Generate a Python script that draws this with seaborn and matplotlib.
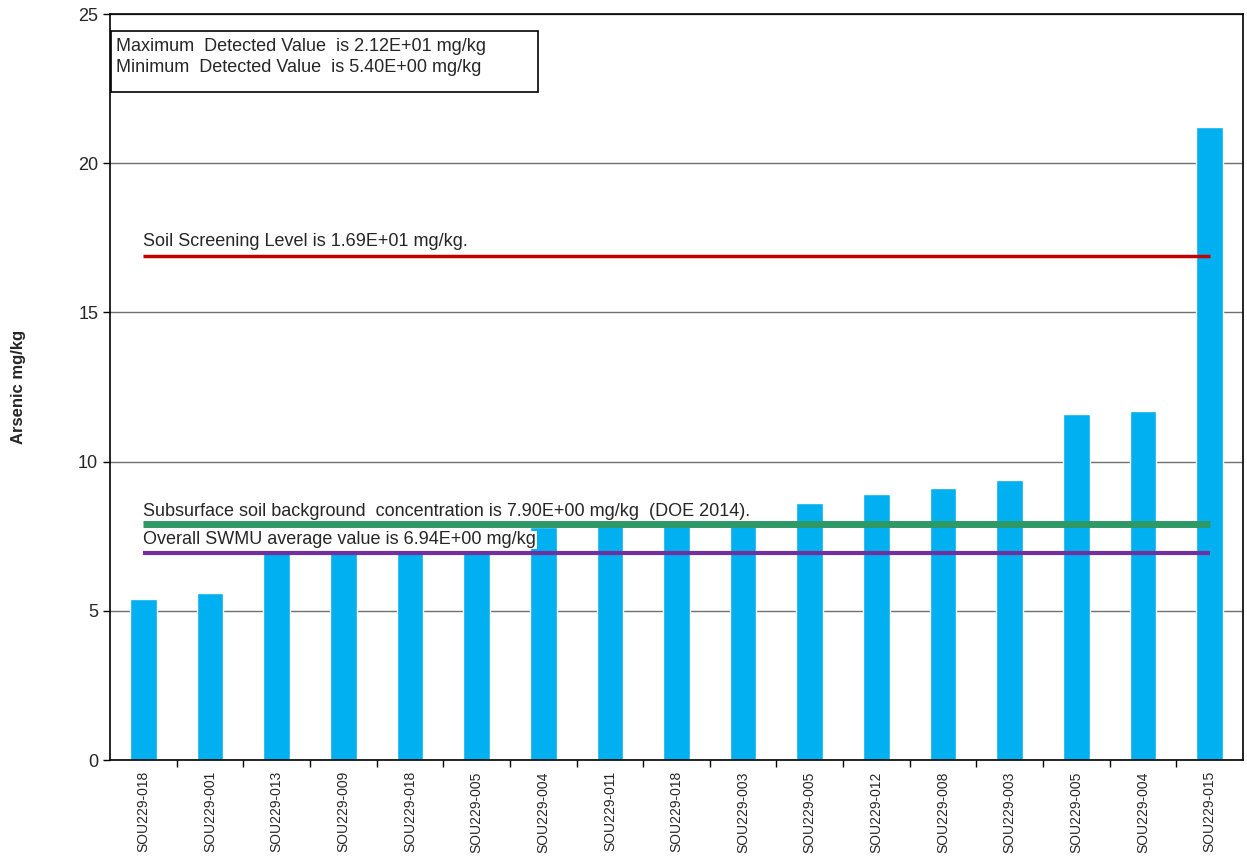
import matplotlib
matplotlib.use("Agg")
import matplotlib.pyplot as plt
import matplotlib.patches as mpatches
import numpy as np
import pandas as pd
import seaborn as sns

# sample ids (in plotted order) and arsenic results
samples = ["SOU229-018", "SOU229-001", "SOU229-013", "SOU229-009", "SOU229-018",
           "SOU229-005", "SOU229-004", "SOU229-011", "SOU229-018", "SOU229-003",
           "SOU229-005", "SOU229-012", "SOU229-008", "SOU229-003", "SOU229-005",
           "SOU229-004", "SOU229-015"]
arsenic = [5.4, 5.6, 7.0, 7.0, 7.0, 7.0, 7.8, 8.0, 8.0, 8.0,
           8.6, 8.9, 9.1, 9.4, 11.6, 11.7, 21.2]

ssl = 16.9
background = 7.9
swmu_avg = 6.94

ssl_label = "Soil Screening Level is 1.69E+01 mg/kg."
bg_label = "Subsurface soil background  concentration is 7.90E+00 mg/kg  (DOE 2014)."
avg_label = "Overall SWMU average value is 6.94E+00 mg/kg"
box_lines = ["Maximum  Detected Value  is 2.12E+01 mg/kg",
             "Minimum  Detected Value  is 5.40E+00 mg/kg"]

sns.set_theme(style="white")
plt.rcParams["font.family"] = ["Liberation Sans", "DejaVu Sans"]

df = pd.DataFrame({"pos": range(len(samples)), "value": arsenic})

fig, ax = plt.subplots(figsize=(12.47, 8.59), dpi=100)
fig.subplots_adjust(left=0.0882, right=0.9968, bottom=0.1152, top=0.9837)

sns.barplot(data=df, x="pos", y="value", color="#00B0F0", saturation=1,
            width=0.4, ax=ax, errorbar=None, zorder=2)

n = len(samples)
ax.set_xlim(-0.5, n - 0.5)
ax.set_ylim(0, 25)
ax.set_yticks([0, 5, 10, 15, 20, 25])
ax.yaxis.grid(True, color="#707070", linewidth=1)
ax.set_axisbelow(True)

# reference lines
ax.hlines(ssl, 0, n - 1, color="#C00000", linewidth=2.5, zorder=3)
ax.hlines(background, 0, n - 1, color="#2E9966", linewidth=5, zorder=3)
ax.hlines(swmu_avg, 0, n - 1, color="#7030A0", linewidth=3, zorder=3)

ax.text(0, ssl + 0.2, ssl_label, fontsize=13, va="bottom", ha="left", zorder=4)
ax.text(0, background + 0.15, bg_label, fontsize=13, va="bottom", ha="left", zorder=4,
        bbox=dict(facecolor="white", edgecolor="none", pad=0.5))
ax.text(0, swmu_avg + 0.15, avg_label, fontsize=13, va="bottom", ha="left", zorder=4,
        bbox=dict(facecolor="white", edgecolor="none", pad=0.5))

# max / min box
ax.add_patch(mpatches.Rectangle((0.0009, 0.895), 0.377, 0.082, transform=ax.transAxes,
                                facecolor="white", edgecolor="black", linewidth=1.2, zorder=5))
ax.text(0.0055, 0.956, box_lines[0], transform=ax.transAxes, fontsize=13,
        va="center", ha="left", zorder=6)
ax.text(0.0055, 0.928, box_lines[1], transform=ax.transAxes, fontsize=13,
        va="center", ha="left", zorder=6)

# x ticks: labels at bars, marks at boundaries
ax.set_xticks(range(n))
ax.set_xticklabels(samples, rotation=90, fontsize=10)
ax.set_xticks(np.arange(0.5, n - 0.5, 1), minor=True)
ax.tick_params(axis="x", which="major", length=0, pad=8)
ax.tick_params(axis="x", which="minor", length=5, width=1, color="black", bottom=True)
ax.tick_params(axis="y", length=5, width=1, color="black", left=True, labelsize=13)

for s in ax.spines.values():
    s.set_color("black")
    s.set_linewidth(1.2)

ax.set_xlabel("")
ax.set_ylabel("Arsenic mg/kg", fontsize=12, fontweight="bold")
ax.yaxis.set_label_coords(-0.074, 0.5)

fig.savefig("out.png", dpi=100)
